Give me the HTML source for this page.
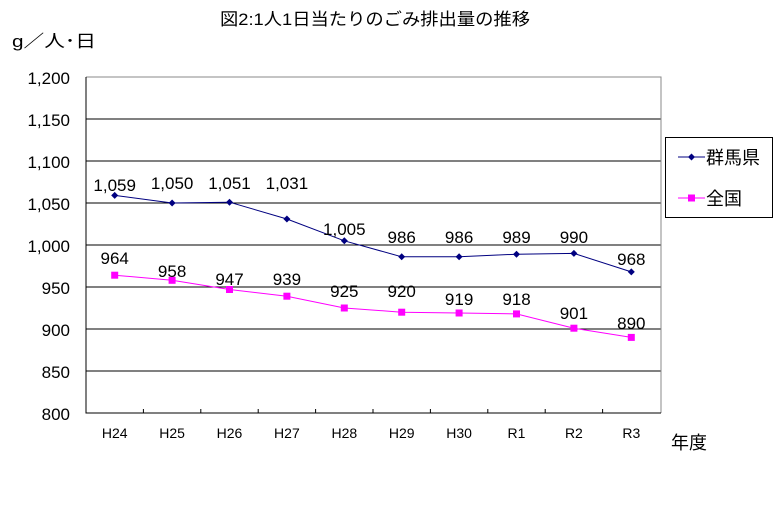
<!DOCTYPE html>
<html><head><meta charset="utf-8"><style>
body{margin:0;background:#fff;}
svg text{font-family:"Liberation Sans","Noto Sans CJK JP",sans-serif;}
</style></head><body>
<svg width="776" height="505" xmlns="http://www.w3.org/2000/svg">
<rect width="776" height="505" fill="#fff"/>
<text x="375" y="25" font-size="17" text-anchor="middle" textLength="310" lengthAdjust="spacingAndGlyphs">図2:1人1日当たりのごみ排出量の推移</text>
<text x="12" y="47" font-size="17" textLength="84" lengthAdjust="spacingAndGlyphs">g／人･日</text>
<g stroke="#000" stroke-width="1">
<line x1="86" y1="119" x2="661" y2="119"/>
<line x1="86" y1="161" x2="661" y2="161"/>
<line x1="86" y1="203" x2="661" y2="203"/>
<line x1="86" y1="245" x2="661" y2="245"/>
<line x1="86" y1="287" x2="661" y2="287"/>
<line x1="86" y1="329" x2="661" y2="329"/>
<line x1="86" y1="371" x2="661" y2="371"/>
</g>
<polyline points="86,77 661,77 661,413" fill="none" stroke="#888"/>
<polyline points="86,77 86,413 661,413" fill="none" stroke="#000"/>
<g stroke="#000">
<line x1="143.4" y1="413" x2="143.4" y2="409"/><line x1="200.8" y1="413" x2="200.8" y2="409"/>
<line x1="258.2" y1="413" x2="258.2" y2="409"/><line x1="315.6" y1="413" x2="315.6" y2="409"/>
<line x1="373" y1="413" x2="373" y2="409"/><line x1="430.4" y1="413" x2="430.4" y2="409"/>
<line x1="487.8" y1="413" x2="487.8" y2="409"/><line x1="545.2" y1="413" x2="545.2" y2="409"/>
<line x1="602.6" y1="413" x2="602.6" y2="409"/>
</g>
<g font-size="17" text-anchor="end">
<text x="70" y="84">1,200</text><text x="70" y="126">1,150</text><text x="70" y="168">1,100</text>
<text x="70" y="210">1,050</text><text x="70" y="252">1,000</text><text x="70" y="294">950</text>
<text x="70" y="336">900</text><text x="70" y="378">850</text><text x="70" y="420">800</text>
</g>
<g font-size="14" text-anchor="middle">
<text x="114.7" y="438">H24</text><text x="172.1" y="438">H25</text><text x="229.5" y="438">H26</text>
<text x="286.9" y="438">H27</text><text x="344.3" y="438">H28</text><text x="401.7" y="438">H29</text>
<text x="459.1" y="438">H30</text><text x="516.5" y="438">R1</text><text x="573.9" y="438">R2</text>
<text x="631.3" y="438">R3</text>
</g>
<text x="671" y="449" font-size="18">年度</text>
<polyline fill="none" stroke="#000080" points="114.7,195.4 172.1,203 229.5,202.2 286.9,219 344.3,240.8 401.7,256.8 459.1,256.8 516.5,254.2 573.9,253.4 631.3,271.9"/>
<g fill="#000080">
<path d="M114.7,191.9l3.5,3.5l-3.5,3.5l-3.5,-3.5z"/><path d="M172.1,199.5l3.5,3.5l-3.5,3.5l-3.5,-3.5z"/>
<path d="M229.5,198.7l3.5,3.5l-3.5,3.5l-3.5,-3.5z"/><path d="M286.9,215.5l3.5,3.5l-3.5,3.5l-3.5,-3.5z"/>
<path d="M344.3,237.3l3.5,3.5l-3.5,3.5l-3.5,-3.5z"/><path d="M401.7,253.3l3.5,3.5l-3.5,3.5l-3.5,-3.5z"/>
<path d="M459.1,253.3l3.5,3.5l-3.5,3.5l-3.5,-3.5z"/><path d="M516.5,250.7l3.5,3.5l-3.5,3.5l-3.5,-3.5z"/>
<path d="M573.9,249.9l3.5,3.5l-3.5,3.5l-3.5,-3.5z"/><path d="M631.3,268.4l3.5,3.5l-3.5,3.5l-3.5,-3.5z"/>
</g>
<polyline fill="none" stroke="#ff00ff" points="114.7,275.2 172.1,280.3 229.5,289.5 286.9,296.2 344.3,308 401.7,312.2 459.1,313 516.5,313.9 573.9,328.2 631.3,337.4"/>
<g fill="#ff00ff">
<rect x="111.2" y="271.7" width="7" height="7"/><rect x="168.6" y="276.8" width="7" height="7"/>
<rect x="226" y="286" width="7" height="7"/><rect x="283.4" y="292.7" width="7" height="7"/>
<rect x="340.8" y="304.5" width="7" height="7"/><rect x="398.2" y="308.7" width="7" height="7"/>
<rect x="455.6" y="309.5" width="7" height="7"/><rect x="513" y="310.4" width="7" height="7"/>
<rect x="570.4" y="324.7" width="7" height="7"/><rect x="627.8" y="333.9" width="7" height="7"/>
</g>
<g font-size="17" text-anchor="middle">
<text x="114.7" y="191">1,059</text><text x="172.1" y="189">1,050</text><text x="229.5" y="189">1,051</text>
<text x="286.9" y="189">1,031</text><text x="344.3" y="235">1,005</text><text x="401.7" y="243">986</text>
<text x="459.1" y="243">986</text><text x="516.5" y="243">989</text><text x="573.9" y="243">990</text>
<text x="631.3" y="265">968</text>
<text x="114.7" y="264">964</text><text x="172.1" y="277">958</text><text x="229.5" y="285">947</text>
<text x="286.9" y="285">939</text><text x="344.3" y="297">925</text><text x="401.7" y="297">920</text>
<text x="459.1" y="305">919</text><text x="516.5" y="305">918</text><text x="573.9" y="319">901</text>
<text x="631.3" y="329">890</text>
</g>
<rect x="665.5" y="137.5" width="107" height="80" fill="#fff" stroke="#000"/>
<line x1="678" y1="157" x2="705" y2="157" stroke="#000080"/>
<path d="M691.5,153.5l3.5,3.5l-3.5,3.5l-3.5,-3.5z" fill="#000080"/>
<text x="706" y="164" font-size="18">群馬県</text>
<line x1="678" y1="198" x2="705" y2="198" stroke="#ff00ff"/>
<rect x="688" y="194.5" width="7" height="7" fill="#ff00ff"/>
<text x="706" y="205" font-size="18">全国</text>
</svg>
</body></html>
